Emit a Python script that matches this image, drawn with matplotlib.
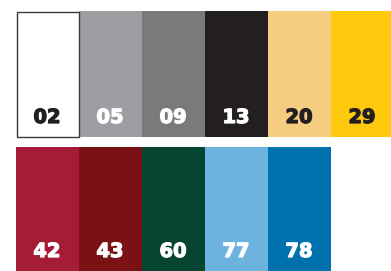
import matplotlib
matplotlib.use("Agg")
import matplotlib.pyplot as plt
import matplotlib.patheffects as pe

codes_row1 = ["02", "05", "09", "13", "20", "29"]
colors_row1 = ["#ffffff", "#9d9ea2", "#797a79", "#231f20", "#f5cd80", "#fec80c"]
text_row1 = ["#231f20", "#ffffff", "#ffffff", "#ffffff", "#231f20", "#231f20"]

codes_row2 = ["42", "43", "60", "77", "78"]
colors_row2 = ["#a51c36", "#7a1115", "#044430", "#6db3df", "#0071af"]
text_row2 = ["#ffffff", "#ffffff", "#ffffff", "#ffffff", "#ffffff"]

fig = plt.figure(figsize=(3.91, 2.71), dpi=100)
ax = fig.add_axes([0, 0, 1, 1])
ax.set_xlim(0, 391)
ax.set_ylim(271, 0)
ax.axis("off")

x0, w = 16, 63
rows = [(codes_row1, colors_row1, text_row1, 11, 126),
        (codes_row2, colors_row2, text_row2, 147, 124)]
for codes, cols, tcols, top, h in rows:
    xs = [x0 + w * i for i in range(len(codes))]
    ax.bar(xs, [h] * len(codes), width=w, bottom=top, color=cols, align="edge",
           linewidth=0)
    for x, c, tc in zip(xs, codes, tcols):
        ax.text(x + w / 2 - 0.5, top + h - 19.5, c, ha="center", va="center", color=tc,
                fontsize=14, fontweight="bold", family="DejaVu Sans",
                path_effects=[pe.withStroke(linewidth=0.9, foreground=tc)])

# border around white swatch
ax.bar([x0 + 0.5], [125], width=w - 1, bottom=11.5, color="none",
       edgecolor="#3a3a3a", linewidth=1, align="edge")

fig.savefig("out.png", dpi=100)
